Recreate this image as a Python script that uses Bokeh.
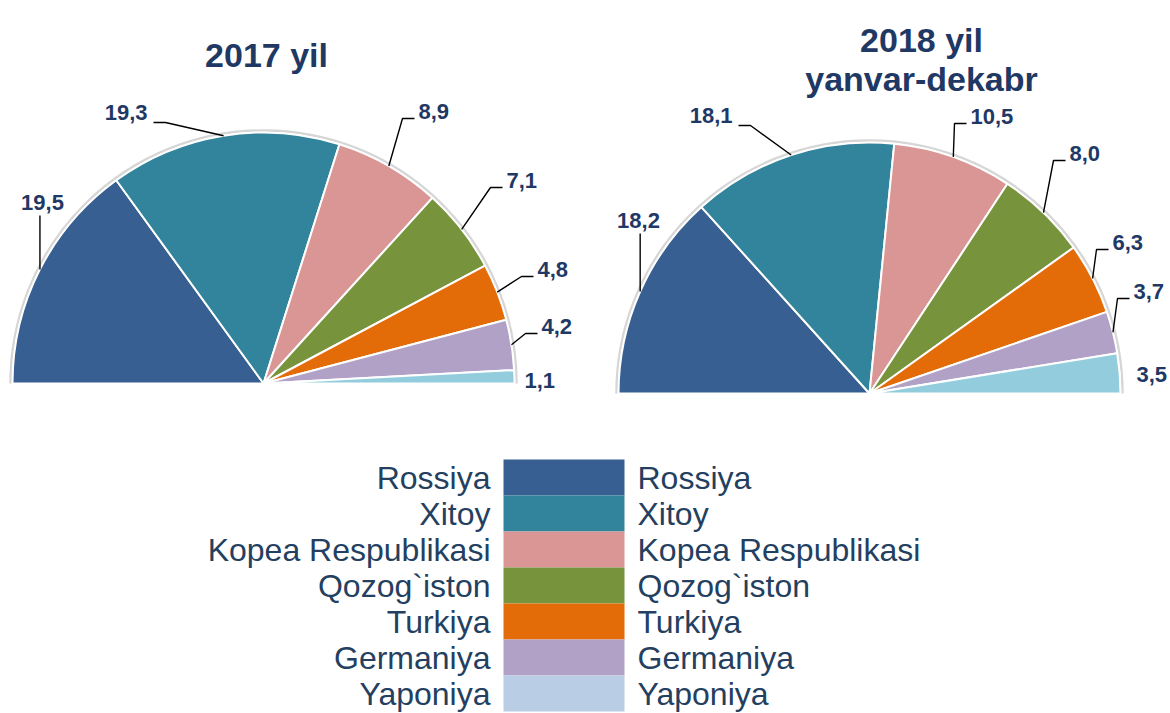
import math
from bokeh.plotting import figure
from bokeh.models import Range1d, ColumnDataSource
from bokeh.core.properties import value
from bokeh.embed import file_html
from bokeh.resources import INLINE

# ---------------- data ----------------
countries = ["Rossiya", "Xitoy", "Kopea Respublikasi", "Qozog`iston",
             "Turkiya", "Germaniya", "Yaponiya"]
values_2017 = [19.5, 19.3, 8.9, 7.1, 4.8, 4.2, 1.1]
values_2018 = [18.2, 18.1, 10.5, 8.0, 6.3, 3.7, 3.5]
labels_2017 = ["19,5", "19,3", "8,9", "7,1", "4,8", "4,2", "1,1"]
labels_2018 = ["18,2", "18,1", "10,5", "8,0", "6,3", "3,7", "3,5"]
title_2017 = ["2017 yil"]
title_2018 = ["2018 yil", "yanvar-dekabr"]
slice_colors = ["#375F91", "#31849B", "#D99694", "#77933C",
                "#E36C09", "#B2A1C7", "#93CDDD"]
legend_colors = ["#375F91", "#31849B", "#D99694", "#77933C",
                 "#E36C09", "#B2A1C7", "#B9CDE5"]

# ---------------- layout (page pixel coordinates) ----------------
W, H = 1170, 713
FONT = value("Liberation Sans")
NAVY = "#1F3864"
LEG_TXT = "#243F60"

def Y(v):
    return H - v

p = figure(width=W, height=H, x_range=Range1d(0, W), y_range=Range1d(0, H),
           output_backend="svg", toolbar_location=None, min_border=0,
           x_axis_location=None, y_axis_location=None)
p.grid.visible = False
p.outline_line_color = None
p.background_fill_color = "white"
p.border_fill_color = "white"

R = 251
pies = [
    dict(vals=values_2017, labels=labels_2017, cx=263, cy=383,
         lab=[(42, 202, "center", "v"), (147, 112, "right", "r"),
              (418, 111, "left", "l"), (506, 180, "left", "l"),
              (537, 269, "left", "l"), (541, 326, "left", "l"),
              (524, 380, "left", None)]),
    dict(vals=values_2018, labels=labels_2018, cx=869, cy=393,
         lab=[(638, 220, "center", "v"), (732, 115, "right", "r"),
              (970, 116, "left", "l"), (1069, 153, "left", "l"),
              (1112, 242, "left", "l"), (1133, 291, "left", "l"),
              (1136, 374, "left", None)]),
]

for pie in pies:
    vals = pie["vals"]
    total = sum(vals)
    cx, cy = pie["cx"], pie["cy"]
    starts, ends, mids = [], [], []
    a = 180.0
    for v in vals:
        a0 = a - v / total * 180.0
        starts.append(math.radians(a0))
        ends.append(math.radians(a))
        mids.append(math.radians((a0 + a) / 2))
        a = a0
    # soft grey rim
    p.arc(x=cx, y=Y(cy), radius=R + 2, radius_units="screen",
          start_angle=0, end_angle=math.pi, line_color="#D6D6D6", line_width=2.5)
    src = ColumnDataSource(dict(start=starts, end=ends, color=slice_colors))
    p.wedge(x=cx, y=Y(cy), radius=R, radius_units="screen",
            start_angle="start", end_angle="end", fill_color="color",
            line_color="white", line_width=2, source=src)
    # leaders and labels
    xs, ys = [], []
    groups = {}
    for i, (lx, ly, align, kind) in enumerate(pie["lab"]):
        ax = cx + R * math.cos(mids[i])
        ay = cy - R * math.sin(mids[i])
        if kind == "v":
            xs.append([ax, ax]); ys.append([Y(ay), Y(ly + 13)])
        elif kind == "l":
            xs.append([ax, lx - 16, lx - 4]); ys.append([Y(ay), Y(ly + 7), Y(ly + 7)])
        elif kind == "r":
            xs.append([ax, lx + 18, lx + 6]); ys.append([Y(ay), Y(ly + 10), Y(ly + 10)])
        g = groups.setdefault(align, dict(x=[], y=[], t=[]))
        g["x"].append(lx); g["y"].append(Y(ly)); g["t"].append(pie["labels"][i])
    p.multi_line(xs=xs, ys=ys, line_color="black", line_width=1.4)
    for align, g in groups.items():
        p.text(x=g["x"], y=g["y"], text=g["t"], text_font=FONT,
               text_font_style="bold", text_font_size="22px", text_color=NAVY,
               text_align=align, text_baseline="middle")

# titles
p.text(x=[266], y=[Y(54)], text=title_2017, text_font=FONT, text_font_style="bold",
       text_font_size="34px", text_color=NAVY, text_align="center",
       text_baseline="alphabetic")
p.text(x=[921, 921], y=[Y(39), Y(78)], text=title_2018, text_font=FONT,
       text_font_style="bold", text_font_size="34px", text_color=NAVY,
       text_align="center", text_baseline="alphabetic")

# legend
top0, rh = 459, 36
n = len(countries)
tops = [Y(top0 + rh * i) for i in range(n)]
bots = [Y(top0 + rh * (i + 1)) for i in range(n)]
p.quad(left=503, right=624, top=tops, bottom=bots, fill_color=legend_colors,
       line_color=None)
mids_y = [Y(top0 + rh * i + rh / 2) for i in range(n)]
p.text(x=[490] * n, y=mids_y, text=countries, text_font=FONT,
       text_font_size="32px", text_color=LEG_TXT, text_align="right",
       text_baseline="middle")
p.text(x=[637] * n, y=mids_y, text=countries, text_font=FONT,
       text_font_size="32px", text_color=LEG_TXT, text_align="left",
       text_baseline="middle")

open("out.html", "w").write(file_html(p, INLINE))
